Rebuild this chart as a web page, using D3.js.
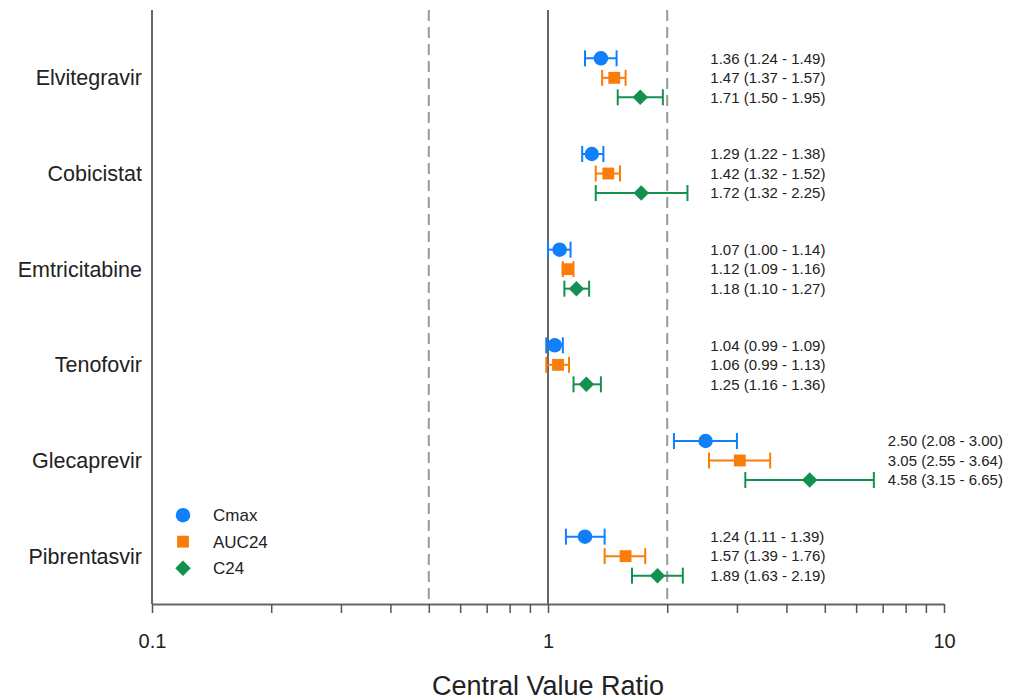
<!DOCTYPE html>
<html>
<head>
<meta charset="utf-8">
<script src="https://cdn.jsdelivr.net/npm/d3@7"></script>
<style>
  body { margin: 0; background: #fff; }
  text { font-family: "Liberation Sans", Arial, sans-serif; fill: #222; }
</style>
</head>
<body>
<div id="chart"></div>
<script>
// drugs and measures
const drugs = ["Elvitegravir", "Cobicistat", "Emtricitabine", "Tenofovir", "Glecaprevir", "Pibrentasvir"]
const metrics = ["Cmax", "AUC24", "C24"]

// central value ratios with 90% CI, one array per measure (same order as drugs)
const cmaxRatio = [1.36, 1.29, 1.07, 1.04, 2.50, 1.24]
const cmaxLow = [1.24, 1.22, 1.00, 0.99, 2.08, 1.11]
const cmaxHigh = [1.49, 1.38, 1.14, 1.09, 3.00, 1.39]

const aucRatio = [1.47, 1.42, 1.12, 1.06, 3.05, 1.57]
const aucLow = [1.37, 1.32, 1.09, 0.99, 2.55, 1.39]
const aucHigh = [1.57, 1.52, 1.16, 1.13, 3.64, 1.76]

const c24Ratio = [1.71, 1.72, 1.18, 1.25, 4.58, 1.89]
const c24Low = [1.50, 1.32, 1.10, 1.16, 3.15, 1.63]
const c24High = [1.95, 2.25, 1.27, 1.36, 6.65, 2.19]

const refLines = [0.5, 1, 2]
const majorTicks = [0.1, 1, 10]

const colors = { Cmax: "#0f7ffb", AUC24: "#fa7d0a", C24: "#13914f" }

const margin = { top: 10, right: 71, bottom: 96, left: 152 }
const width = 1015 - margin.left - margin.right,
    height = 700 - margin.top - margin.bottom;

const svg = d3.select("#chart")
    .append("svg")
    .attr("width", width + margin.left + margin.right)
    .attr("height", height + margin.top + margin.bottom)
    .append("g")
    .attr("transform", "translate(" + margin.left + "," + margin.top + ")")

const xScale = d3.scaleLog().domain([0.1, 10]).range([0, width])
const yScale = d3.scaleBand().domain(drugs).range([20, height])
const offsetScale = d3.scalePoint().domain(metrics).range([-19.5, 19.5])

// build rows from the arrays
const series = [
    { key: "Cmax", mid: cmaxRatio, lo: cmaxLow, hi: cmaxHigh },
    { key: "AUC24", mid: aucRatio, lo: aucLow, hi: aucHigh },
    { key: "C24", mid: c24Ratio, lo: c24Low, hi: c24High }
]
const rows = []
series.forEach(s => {
    drugs.forEach((drug, i) => {
        rows.push({ drug: drug, metric: s.key, mid: s.mid[i], lo: s.lo[i], hi: s.hi[i] })
    })
})
const bandMid = drug => yScale(drug) + yScale.bandwidth() / 2
const rowY = d => bandMid(d.drug) + offsetScale(d.metric)

// reference lines
svg.selectAll(".ref")
    .data(refLines)
    .enter().append("line")
    .attr("class", "ref")
    .attr("x1", d => xScale(d)).attr("x2", d => xScale(d))
    .attr("y1", 0).attr("y2", height)
    .attr("stroke", d => d === 1 ? "#666" : "#9a9a9a")
    .attr("stroke-width", 2)
    .attr("stroke-dasharray", d => d === 1 ? null : "11,6")

// x axis with minor ticks
const allTicks = []
;[0.1, 1].forEach(dec => { for (let k = 1; k <= 9; k++) allTicks.push(+(dec * k).toFixed(2)) })
allTicks.push(10)

const xAxis = d3.axisBottom(xScale)
    .tickValues(allTicks)
    .tickSize(9)
    .tickSizeOuter(0)
    .tickPadding(21)
    .tickFormat(d => majorTicks.includes(d) ? d3.format("~g")(d) : "")
const xg = svg.append("g")
    .attr("class", "axis x-axis")
    .attr("transform", "translate(0," + height + ")")
    .call(xAxis)
xg.select(".domain").attr("stroke", "#666").attr("stroke-width", 2)
xg.selectAll(".tick line").attr("stroke", "#555").attr("stroke-width", 1.5)
xg.selectAll(".tick text")
    .style("font-family", "Liberation Sans, Arial, sans-serif")
    .style("font-size", "20px").attr("fill", "#222")

// y axis line and category labels
svg.append("line")
    .attr("x1", 0).attr("x2", 0).attr("y1", 0).attr("y2", height)
    .attr("stroke", "#666").attr("stroke-width", 2)

svg.selectAll(".drug-label")
    .data(drugs)
    .enter().append("text")
    .attr("class", "drug-label")
    .attr("x", -10)
    .attr("y", d => bandMid(d))
    .attr("dy", "0.35em")
    .attr("text-anchor", "end")
    .style("font-size", "21.5px")
    .text(d => d)

svg.append("text")
    .attr("x", width / 2)
    .attr("y", height + 91)
    .attr("text-anchor", "middle")
    .style("font-size", "27px")
    .text("Central Value Ratio")

// error bars
const bars = svg.selectAll(".bar")
    .data(rows)
    .enter().append("g")
    .attr("class", "bar")
    .attr("stroke", d => colors[d.metric])
    .attr("stroke-width", 2)

bars.append("line")
    .attr("x1", d => xScale(d.lo)).attr("x2", d => xScale(d.hi))
    .attr("y1", rowY).attr("y2", rowY)
bars.append("line")
    .attr("x1", d => xScale(d.lo)).attr("x2", d => xScale(d.lo))
    .attr("y1", d => rowY(d) - 8).attr("y2", d => rowY(d) + 8)
bars.append("line")
    .attr("x1", d => xScale(d.hi)).attr("x2", d => xScale(d.hi))
    .attr("y1", d => rowY(d) - 8).attr("y2", d => rowY(d) + 8)

// markers: circle, square, and a square turned 45 degrees for the diamond
const symbolFor = { Cmax: d3.symbolCircle, AUC24: d3.symbolSquare, C24: d3.symbolSquare }
const sizeFor = { Cmax: 165, AUC24: 140, C24: 120 }
const turnFor = { Cmax: 0, AUC24: 0, C24: 45 }
const symbolPath = m => d3.symbol().type(symbolFor[m]).size(sizeFor[m])()

svg.selectAll(".marker")
    .data(rows)
    .enter().append("path")
    .attr("class", "marker")
    .attr("transform", d => "translate(" + xScale(d.mid) + "," + rowY(d) + ") rotate(" + turnFor[d.metric] + ")")
    .attr("d", d => symbolPath(d.metric))
    .attr("fill", d => colors[d.metric])

// value annotations
const fmt = d3.format(".2f")
const labelAt = xScale(2.57)
svg.selectAll(".value-label")
    .data(rows)
    .enter().append("text")
    .attr("class", "value-label")
    .attr("x", d => {
        // push labels right when the interval runs past the label column
        const maxHi = d3.max(rows.filter(r => r.drug === d.drug), r => r.hi)
        return Math.max(labelAt, xScale(maxHi) + 14)
    })
    .attr("y", rowY)
    .attr("dy", "0.35em")
    .style("font-size", "15px")
    .text(d => fmt(d.mid) + " (" + fmt(d.lo) + " - " + fmt(d.hi) + ")")

// legend
const legend = svg.append("g")
    .attr("transform", "translate(31," + (bandMid("Pibrentasvir") - 41) + ")")
const legendItems = legend.selectAll("g")
    .data(metrics)
    .enter().append("g")
    .attr("transform", (d, i) => "translate(0," + (i * 26.5) + ")")
legendItems.append("path")
    .attr("d", d => symbolPath(d))
    .attr("transform", d => "rotate(" + turnFor[d] + ")")
    .attr("fill", d => colors[d])
legendItems.append("text")
    .attr("x", 30)
    .attr("dy", "0.35em")
    .style("font-size", "17px")
    .text(d => d)
</script>
</body>
</html>
